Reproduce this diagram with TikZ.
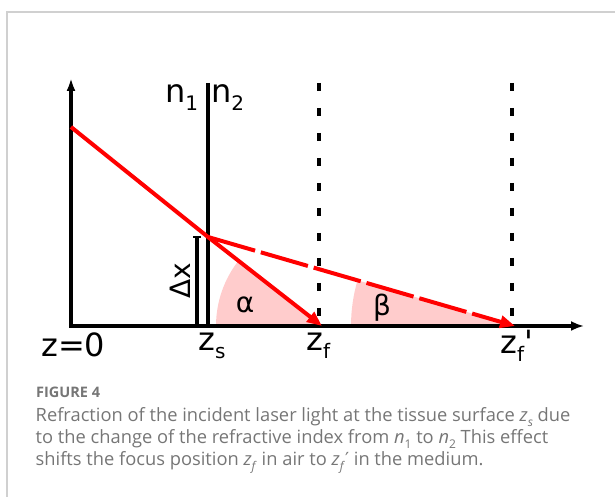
\documentclass[tikz,border=0pt]{standalone}
\usepackage{fontspec}
\setmainfont{DejaVu Sans}
\newfontfamily\capfont{Open Sans}
\newfontfamily\dvfont{DejaVu Sans}
\usetikzlibrary{arrows.meta}
\definecolor{rayred}{RGB}{255,0,0}
\definecolor{wedgepink}{RGB}{255,204,204}
\definecolor{framegray}{RGB}{208,208,208}
\definecolor{capgray}{RGB}{118,118,118}
\newcommand\lsub[1]{\raisebox{-0.22em}{\fontsize{20}{20}\selectfont #1}}
\newcommand\csub[1]{\raisebox{-0.25em}{\fontsize{12}{12}\selectfont #1}}
\tikzset{
  axisline/.style={line width=3.2pt, black},
  rayline/.style={line width=4pt, rayred, line join=round},
  guide/.style={line width=4pt, black, dash pattern=on 8pt off 17pt},
  lab/.style={inner sep=0pt, anchor=base west, font=\fontsize{32}{38}\selectfont},
  glab/.style={inner sep=0pt, font=\fontsize{28}{32}\selectfont},
  captext/.style={inner sep=0pt, anchor=base west, text=capgray, font=\capfont\fontsize{18.3}{22}\selectfont},
  redtip/.style={-{Triangle[length=15pt,width=12pt]}},
}
\begin{document}
\begin{tikzpicture}[x=1pt,y=1pt]
\useasboundingbox (0,0) rectangle (615,497);
% frame
\draw[framegray, line width=1.2pt] (7,0) -- (7,485) -- (615,485);
% coordinates
\coordinate (O) at (71,171);
\coordinate (Ytop) at (71,419);
\coordinate (Xtip) at (584,171);
\coordinate (S) at (71,370);
\coordinate (P) at (208,260);
\coordinate (Itop) at (208,414);
\coordinate (Ibot) at (208,171);
\coordinate (zf) at (322,171);
\coordinate (zfp) at (515,171);
\coordinate (Dtop) at (197,260);
\coordinate (Dbot) at (197,171);
\coordinate (DcapL) at (193,260);
\coordinate (DcapR) at (201,260);
\coordinate (G1t) at (318.5,414);
\coordinate (G1b) at (318.5,171);
\coordinate (G2t) at (512,414);
\coordinate (G2b) at (512,171);
% wedges
\fill[wedgepink] (zf) -- ++(180:106) arc[start angle=180, end angle=142, radius=106] -- cycle;
\fill[wedgepink] (zfp) -- ++(180:164) arc[start angle=180, end angle=163.8, radius=164] -- cycle;
% guides
\draw[guide] (G1t) -- (G1b);
\draw[guide] (G2t) -- (G2b);
% axes
\draw[axisline, line join=miter, {Latex[length=13pt,width=9pt]}-{Latex[length=13pt,width=10pt]}] (Ytop) -- (O) -- (Xtip);
% interface
\draw[axisline] (Itop) -- (Ibot);
% delta x bar
\draw[axisline] (Dtop) -- (Dbot);
\draw[line width=2pt] (DcapL) -- (DcapR);
% rays
\draw[rayline, redtip] (S) -- (P) -- (zf);
\draw[rayline, redtip, dash pattern=on 49pt off 6pt] (P) -- (zfp);
% labels
\node[lab] (n1) at (165,394) {n\lsub{1}};
\node[lab] (n2) at (211,394) {n\lsub{2}};
\node[lab] (z0) at (41,140) {z=0};
\node[lab] (zs) at (198,146) {z\lsub{s}};
\node[lab] (zfl) at (306,146) {z\lsub{f}};
\node[lab] (zfpl) at (500,143) {z\lsub{f}{\dvfont\symbol{"27}}};
\node[glab, rotate=90] (dx) at (180,216) {Δx};
\node[glab] (al) at (245,192) {α};
\node[glab] (be) at (382,189) {β};
% caption
\node[captext, font=\capfont\bfseries\fontsize{14.5}{16}\selectfont] (fig) at (36,99) {FIGURE 4};
\node[captext] (c1) at (35.5,75) {Refraction of the incident laser light at the tissue surface \textit{z}\csub{\textit{s}} due};
\node[captext] (c2) at (35.5,53) {to the change of the refractive index from \textit{n}\csub{1} to \textit{n}\csub{2} This effect};
\node[captext] (c3) at (35.5,31) {shifts the focus position \textit{z}\csub{\textit{f}} in air to \textit{z}\csub{\textit{f}}{\dvfont\fontsize{18}{18}\selectfont ′} in the medium.};
\end{tikzpicture}
\end{document}
